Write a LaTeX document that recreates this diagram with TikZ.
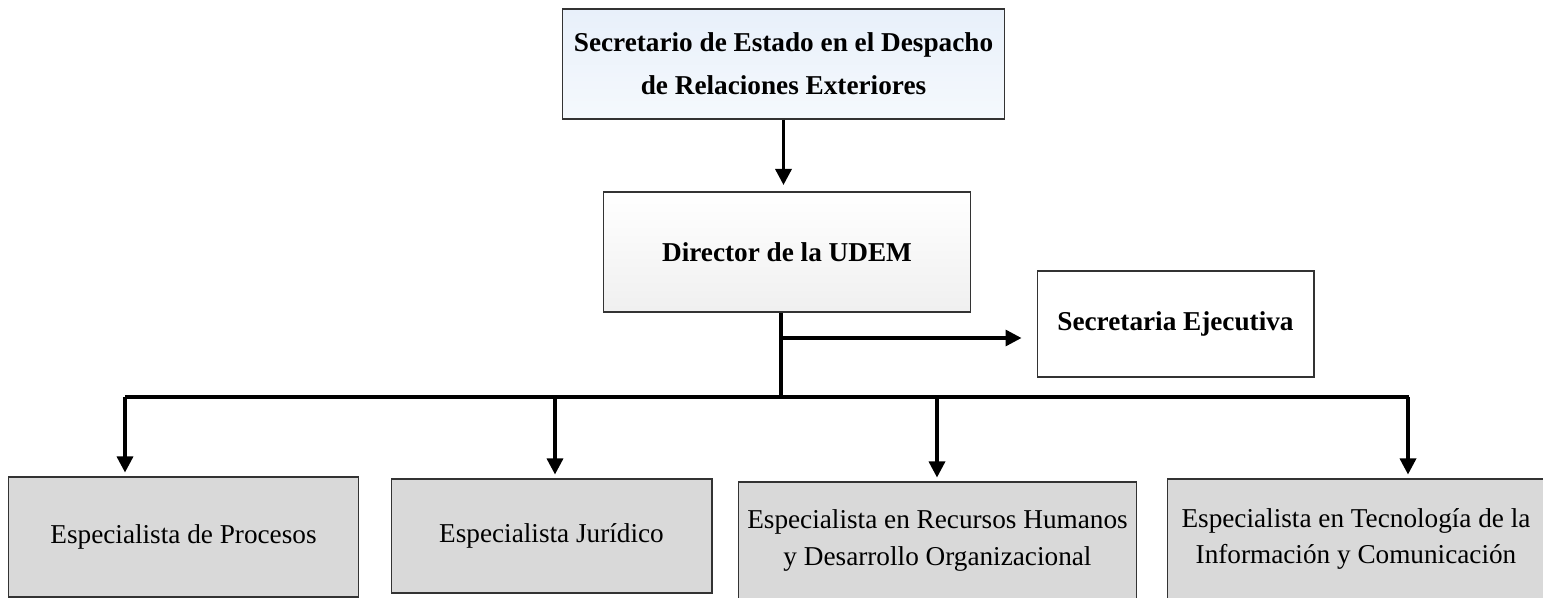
\documentclass[tikz,border=0pt]{standalone}
\usepackage{fontspec}
\setmainfont{Liberation Serif}
\usetikzlibrary{arrows.meta}

\begin{document}
\begin{tikzpicture}[x=0.02cm,y=-0.02cm,
  orgbox/.style={draw=black!80,line width=0.6pt,align=center,inner sep=0pt,
    font=\fontsize{15.5}{21}\selectfont},
  headbox/.style={orgbox,font=\fontsize{15.5}{21}\selectfont\bfseries},
  unitbox/.style={orgbox,fill=black!15},
  busline/.style={line width=1.9pt},
  arrowline/.style={busline,-{Triangle[length=0.32cm,width=0.32cm]}}]
\useasboundingbox (0,0) rectangle (1543,598);
% upper levels
\node[headbox,minimum width=8.86cm,minimum height=2.2cm,
  top color={rgb,255:red,232;green,240;blue,250},
  bottom color={rgb,255:red,245;green,249;blue,253}] (sec) at (783.5,64)
  {Secretario de Estado en el Despacho\\[3.5pt]de Relaciones Exteriores};
\node[headbox,minimum width=7.36cm,minimum height=2.4cm,
  top color=white,bottom color=black!6] (dir) at (787,252) {Director de la UDEM};
\node[headbox,minimum width=5.54cm,minimum height=2.12cm,fill=white] (secej) at (1175.5,324)
  {Secretaria Ejecutiva};
% specialists
\node[unitbox,minimum width=7.02cm,minimum height=2.4cm] (proc) at (183.5,537)
  {Especialista de Procesos};
\node[unitbox,minimum width=6.42cm,minimum height=2.28cm] (jur) at (551.5,536)
  {Especialista Jurídico};
\node[unitbox,minimum width=7.98cm,minimum height=2.34cm] (rrhh) at (937.5,540.5)
  {Especialista en Recursos Humanos\\y Desarrollo Organizacional};
\node[unitbox,minimum width=7.56cm,minimum height=2.4cm] (tic) at (1356,539)
  {Especialista en Tecnología de la\\Información y Comunicación};
% connectors
\coordinate (fork) at (781,397);
\coordinate (split) at (781,338);
\coordinate (busL) at (125,397);
\coordinate (busR) at (1409,397);
\draw[arrowline,shorten >=0.13cm] (sec.south) -- (sec.south |- dir.north);
\draw[busline] (dir.south -| fork) -- (fork);
\draw[arrowline,shorten >=0.3cm] (split) -- (split -| secej.west);
\draw[busline] (busL) -- (busR);
\foreach \x/\n in {125/proc,555/jur,937/rrhh,1408/tic}
  \draw[arrowline,shorten >=0.08cm] (\x,397) coordinate (drop) -- (drop |- \n.north);
\end{tikzpicture}
\end{document}
